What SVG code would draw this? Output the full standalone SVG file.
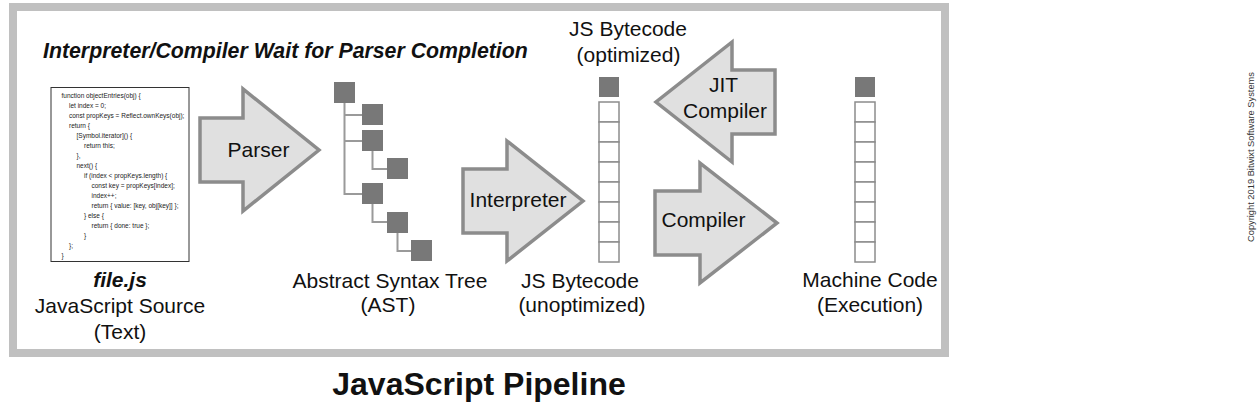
<svg xmlns="http://www.w3.org/2000/svg" width="1260" height="410" viewBox="0 0 1260 410">
<defs>
<style>
.t{font-family:"Liberation Sans",Arial,sans-serif;font-size:21px;fill:#111;text-anchor:middle}
.bi{font-weight:bold;font-style:italic}
.code{font-family:"Liberation Sans",Arial,sans-serif;font-size:6.5px;fill:#222}
.blk{fill:#e0e0e0;stroke:#8c8c8c;stroke-width:3.5;stroke-linejoin:miter}
.sq{fill:#787878}
.cell{fill:#fff;stroke:#8c8c8c;stroke-width:1.5}
.ln{stroke:#9a9a9a;stroke-width:2;fill:none}
</style>
<g id="col">
<rect class="sq" x="0" y="0" width="20" height="20"/>
<rect class="cell" x="0" y="25" width="20" height="20"/>
<rect class="cell" x="0" y="45" width="20" height="20"/>
<rect class="cell" x="0" y="65" width="20" height="20"/>
<rect class="cell" x="0" y="85" width="20" height="20"/>
<rect class="cell" x="0" y="105" width="20" height="20"/>
<rect class="cell" x="0" y="125" width="20" height="20"/>
<rect class="cell" x="0" y="145" width="20" height="20"/>
<rect class="cell" x="0" y="165" width="20" height="20"/>
</g>
</defs>
<rect x="0" y="0" width="1260" height="410" fill="#fff"/>
<rect id="frame" x="13" y="7" width="932" height="346" fill="#fff" stroke="#c0c0c0" stroke-width="8"/>
<text class="t bi" x="43" y="58" style="text-anchor:start;font-size:21.3px">Interpreter/Compiler Wait for Parser Completion</text>

<g id="source">
<rect x="51" y="87.5" width="138" height="174" fill="#fff" stroke="#333" stroke-width="1"/>
<text class="code">
<tspan x="61.5" y="97.5">function objectEntries(obj) {</tspan>
<tspan x="69" y="107.5">let index = 0;</tspan>
<tspan x="69" y="117.5">const propKeys = Reflect.ownKeys(obj);</tspan>
<tspan x="69" y="127.5">return {</tspan>
<tspan x="76.5" y="137.5">[Symbol.iterator]() {</tspan>
<tspan x="84" y="147.5">return this;</tspan>
<tspan x="76.5" y="157.5">},</tspan>
<tspan x="76.5" y="167.5">next() {</tspan>
<tspan x="84" y="177.5">if (index &lt; propKeys.length) {</tspan>
<tspan x="91.5" y="187.5">const key = propKeys[index];</tspan>
<tspan x="91.5" y="197.5">index++;</tspan>
<tspan x="91.5" y="207.5">return { value: [key, obj[key]] };</tspan>
<tspan x="84" y="217.5">} else {</tspan>
<tspan x="91.5" y="227.5">return { done: true };</tspan>
<tspan x="84" y="237.5">}</tspan>
<tspan x="69" y="247.5">};</tspan>
<tspan x="61.5" y="257.5">}</tspan>
</text>
<text class="t bi" x="120" y="287">file.js</text>
<text class="t" x="120" y="313">JavaScript Source</text>
<text class="t" x="120" y="339">(Text)</text>
</g>

<g id="parser">
<polygon class="blk" points="200,118 243,118 243,89 319,150 243,211 243,182 200,182"/>
<text class="t" x="258.5" y="157">Parser</text>
</g>

<g id="connectors">
<path class="ln" d="M344.5,103 V194 H362 M344.5,115 H362 M344.5,141 H362 M372.5,151 V169 H387 M372.5,204 V222 H387 M397.5,233 V251 H411"/>
</g>

<g id="ast">
<rect class="sq" x="334" y="82" width="21" height="21"/>
<rect class="sq" x="362" y="104" width="21" height="21"/>
<rect class="sq" x="362" y="130" width="21" height="21"/>
<rect class="sq" x="387" y="158" width="21" height="21"/>
<rect class="sq" x="362" y="183" width="21" height="21"/>
<rect class="sq" x="387" y="212" width="21" height="21"/>
<rect class="sq" x="411" y="240" width="21" height="21"/>
<text class="t" x="390" y="288">Abstract Syntax Tree</text>
<text class="t" x="388" y="312">(AST)</text>
</g>

<g id="interpreter">
<polygon class="blk" points="463,169 507,169 507,141 583,201 507,261 507,233 463,233"/>
<text class="t" x="518" y="207">Interpreter</text>
</g>

<g id="bytecode">
<use href="#col" x="599" y="77"/>
<text class="t" x="628" y="36">JS Bytecode</text>
<text class="t" x="628.5" y="62">(optimized)</text>
<text class="t" x="580" y="288">JS Bytecode</text>
<text class="t" x="582" y="312">(unoptimized)</text>
</g>

<g id="jit">
<polygon class="blk" points="775,70 732,70 732,42 656,102 732,162 732,134 775,134"/>
<text class="t" x="723.5" y="92">JIT</text>
<text class="t" x="725" y="118">Compiler</text>
</g>

<g id="compiler">
<polygon class="blk" points="655,191 700,191 700,163 777,223 700,283 700,255 655,255"/>
<text class="t" x="703.5" y="227">Compiler</text>
</g>

<g id="machine">
<use href="#col" x="855" y="77"/>
<text class="t" x="870" y="287">Machine Code</text>
<text class="t" x="870" y="312">(Execution)</text>
</g>

<text id="title" x="479" y="395" style="font-family:'Liberation Sans',Arial,sans-serif;font-size:32px;font-weight:bold;fill:#111;text-anchor:middle">JavaScript Pipeline</text>
<text id="copyright" transform="translate(1254,157) rotate(-90)" style="font-family:'Liberation Sans',Arial,sans-serif;font-size:9.3px;fill:#333;text-anchor:middle">Copyright 2019 Bitwixt Software Systems</text>
</svg>
